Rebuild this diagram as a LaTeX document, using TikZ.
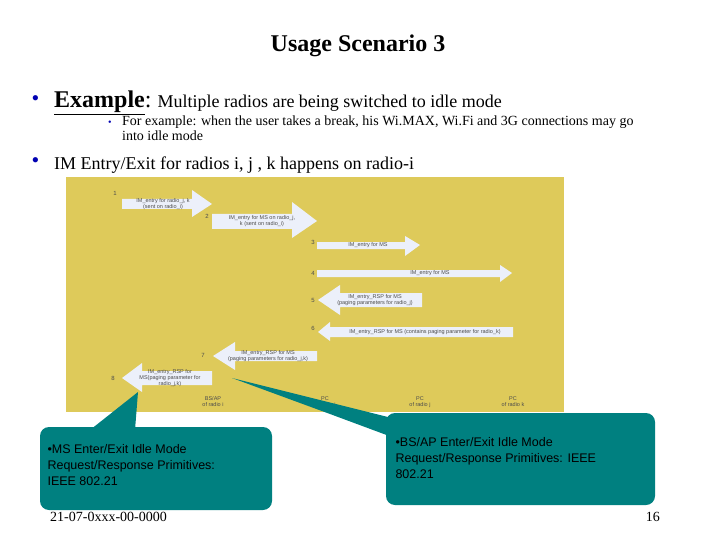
\documentclass[tikz,border=0pt]{standalone}
\usepackage{fontspec}
\setmainfont{Liberation Serif}
\newfontfamily\sansf{Liberation Sans}
\definecolor{teal1}{RGB}{0,128,128}
\definecolor{ybg}{RGB}{222,202,90}
\definecolor{arr}{RGB}{236,240,250}
\begin{document}
\begin{tikzpicture}[x=1pt,y=-1pt,
  ar/.style={fill=arr,draw=none},
  atxt/.style={font=\sansf\fontsize{5.5}{6}\selectfont,align=center,text=black!70},
  num/.style={font=\sansf\fontsize{6}{6}\selectfont,text=black!70},
  callout/.style={fill=teal1,draw=none,rounded corners=9pt},
  ctext/.style={font=\sansf\fontsize{12.5}{16}\selectfont,align=left,anchor=north west,text=black}]
\useasboundingbox (0,0) rectangle (720,540);
\node[font=\bfseries\fontsize{24}{28}\selectfont] (title) at (358,46) {Usage Scenario 3};
\node[anchor=west,text=blue!70!black,font=\fontsize{22}{22}\selectfont] (b1) at (28,101) {\textbullet};
\node[anchor=base west,inner sep=0] (ex) at (54,108) {\fontsize{24}{28}\selectfont\underline{\textbf{Example}}:\ \fontsize{18}{20}\selectfont Multiple radios are being switched to idle mode};
\node[anchor=base west,inner sep=0,font=\fontsize{10}{10}\selectfont,text=blue!70!black] (b2) at (108,126) {\textbullet};
\node[anchor=base west,inner sep=0,font=\fontsize{14}{14}\selectfont,align=left] (sub) at (122,126) {For example: when the user takes a break, his Wi.MAX, Wi.Fi and 3G connections may go};
\node[anchor=base west,inner sep=0,font=\fontsize{14}{14}\selectfont] (sub2) at (122,141) {into idle mode};
\node[anchor=west,text=blue!70!black,font=\fontsize{22}{22}\selectfont] (b3) at (28,163) {\textbullet};
\node[anchor=base west,inner sep=0,font=\fontsize{18}{20}\selectfont] (im) at (54,170) {IM Entry/Exit for radios i, j , k happens on radio-i};
% figure
\fill[ybg] (66,177) rectangle (564,412);
\fill[ar] (122,199)--(192,199)--(192,190)--(212,204)--(192,217)--(192,209)--(122,209)--cycle;
\fill[ar] (212,214)--(292,214)--(292,202)--(317,221)--(292,238)--(292,229)--(212,229)--cycle;
\fill[ar] (317,242)--(405,242)--(405,236)--(420,245)--(405,256)--(405,249)--(317,249)--cycle;
\fill[ar] (317,270)--(500,270)--(500,265)--(512,273)--(500,282)--(500,277)--(317,277)--cycle;
\fill[ar] (422,293)--(340,293)--(340,285)--(318,300)--(340,315)--(340,307)--(422,307)--cycle;
\fill[ar] (513,327)--(330,327)--(330,322)--(318,332)--(330,341)--(330,337)--(513,337)--cycle;
\fill[ar] (317,351)--(235,351)--(235,342)--(213,356)--(235,370)--(235,361)--(317,361)--cycle;
\fill[ar] (212,371)--(142,371)--(142,363)--(122,378)--(142,392)--(142,385)--(212,385)--cycle;
\node[atxt] (t1) at (163,204) {IM\_entry for radio\_j, k\\(sent on radio\_i)};
\node[atxt] (t2) at (262,221) {IM\_entry for MS on radio\_j,\\k (sent on radio\_i)};
\node[atxt] (t3) at (368,245) {IM\_entry for MS};
\node[atxt] (t4) at (430,273) {IM\_entry for MS};
\node[atxt] (t5) at (375,300) {IM\_entry\_RSP for MS\\(paging parameters for radio\_j)};
\node[atxt] (t6) at (425,332) {IM\_entry\_RSP for MS (contains paging parameter for radio\_k)};
\node[atxt] (t7) at (268,356) {IM\_entry\_RSP for MS\\(paging parameters for radio\_j,k)};
\node[atxt] (t8) at (170,378) {IM\_entry\_RSP for\\MS(paging parameter for\\radio\_j,k)};
\foreach \n/\x/\y in {1/115/193,2/207/216,3/313/242,4/313/273,5/313/300,6/313/328,7/203/355,8/113/378}
  \node[num] (n\n) at (\x,\y) {\n};
\node[atxt] (c1) at (213,402) {BS/AP\\of radio i};
\node[atxt] (c2) at (325,402) {PC\\of radio i};
\node[atxt] (c3) at (420,402) {PC\\of radio j};
\node[atxt] (c4) at (513,402) {PC\\of radio k};
\fill[teal1] (90,430)--(138,392)--(135,430)--cycle;
\fill[callout] (40,427) rectangle (272,510);
\fill[teal1] (232,378)--(330,414)--(400,440)--(392,418)--cycle;
\fill[callout] (386,413) rectangle (655,505);
\node[ctext] (L) at (44,441) {\textbullet MS Enter/Exit Idle Mode\\Request/Response Primitives:\\IEEE 802.21};
\node[ctext] (R) at (392,434) {\textbullet BS/AP Enter/Exit Idle Mode\\Request/Response Primitives: IEEE\\802.21};
\node[anchor=base west,inner sep=0,font=\fontsize{14}{14}\selectfont] (ft) at (50,521) {21-07-0xxx-00-0000};
\node[anchor=base east,inner sep=0,font=\fontsize{14}{14}\selectfont] (pg) at (660,521) {16};
\end{tikzpicture}
\end{document}
